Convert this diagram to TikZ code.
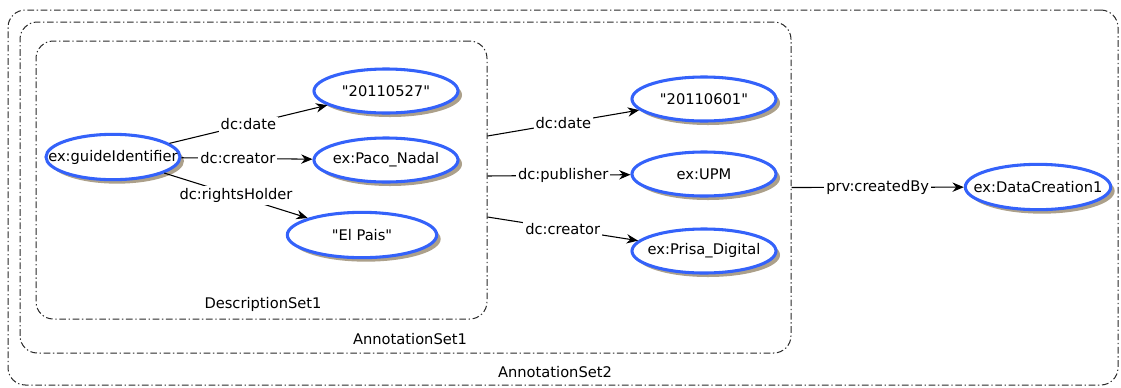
\documentclass[tikz,border=0pt]{standalone}
\usepackage{fontspec}
\setmainfont{DejaVu Sans}[Ligatures=TeXOff]
\usetikzlibrary{arrows.meta,shapes.geometric,shadows}

\definecolor{rdfblue}{RGB}{52,98,250}
\definecolor{shadowbrown}{RGB}{172,160,138}
\definecolor{setgray}{RGB}{40,40,40}

\newcommand{\rdf}[1]{\makebox[0pt]{#1}}

\begin{document}
\begin{tikzpicture}[x=0.75pt, y=-0.75pt, font=\fontsize{11}{13}\selectfont]
      \tikzset{
	  resource/.style={ellipse, draw=rdfblue, line width=2.3pt, fill=white, inner sep=0pt, minimum width=108pt, minimum height=33pt, drop shadow={shadow xshift=3pt, shadow yshift=-3pt, fill=shadowbrown, opacity=1}},
	  setbox/.style={rectangle, rounded corners=13pt, draw=setgray, line width=0.75pt, dash pattern=on 5pt off 2pt on 1pt off 2pt, inner sep=0pt},
	  prop/.style={fill=white, inner sep=1.5pt},
	  arc/.style={-{Stealth[length=8.5pt,width=7pt]}, line width=0.8pt},
	  mylabel/.style={inner sep=1pt}
      }

      \useasboundingbox (0,0) rectangle (1121,387);

      % nested sets
      \node[setbox, minimum width=832.5pt, minimum height=281.25pt] (set2) at (563,197.5) {};
      \node[setbox, minimum width=578.25pt, minimum height=248.25pt] (set1) at (405.5,187.5) {};
      \node[setbox, minimum width=338.25pt, minimum height=208.5pt] (desc) at (261.5,180) {};
      \node[mylabel] (desclabel) at (263,304) {DescriptionSet1};
      \node[mylabel] (set1label) at (410,339) {AnnotationSet1};
      \node[mylabel] (set2label) at (555,372) {AnnotationSet2};

      % resources
      \node[resource, minimum width=100.5pt, minimum height=34pt] (guide) at (113,157) {\rdf{ex:guideIdentifier}};
      \node[resource] (d527) at (386,91) {\rdf{"20110527"}};
      \node[resource] (paco) at (386,160) {\rdf{ex:Paco\_Nadal}};
      \node[resource, minimum width=112pt, minimum height=34pt] (pais) at (362,235) {\rdf{"El Pais"}};
      \node[resource] (d601) at (704,99) {\rdf{"20110601"}};
      \node[resource] (upm) at (704,174) {\rdf{ex:UPM}};
      \node[resource] (prisa) at (704,251) {\rdf{ex:Prisa\_Digital}};
      \node[resource, minimum width=109pt, minimum height=34pt] (dc1) at (1038,187) {\rdf{ex:DataCreation1}};

      % properties
      \draw[arc] (guide) -- node[prop] {dc:date} (d527);
      \draw[arc] (guide) -- node[prop, pos=0.43] {dc:creator} (paco);
      \draw[arc] (guide) -- node[prop] {dc:rightsHolder} (pais);
      \draw[arc] ([yshift=33pt]desc.east) -- node[prop] {dc:date} (d601);
      \draw[arc] ([yshift=3pt]desc.east) -- node[prop, pos=0.53] {dc:publisher} (upm);
      \draw[arc] ([yshift=-27.75pt]desc.east) -- node[prop] {dc:creator} (prisa);
      \draw[arc] (set1.east) -- node[prop] {prv:createdBy} (dc1);
\end{tikzpicture}
\end{document}
